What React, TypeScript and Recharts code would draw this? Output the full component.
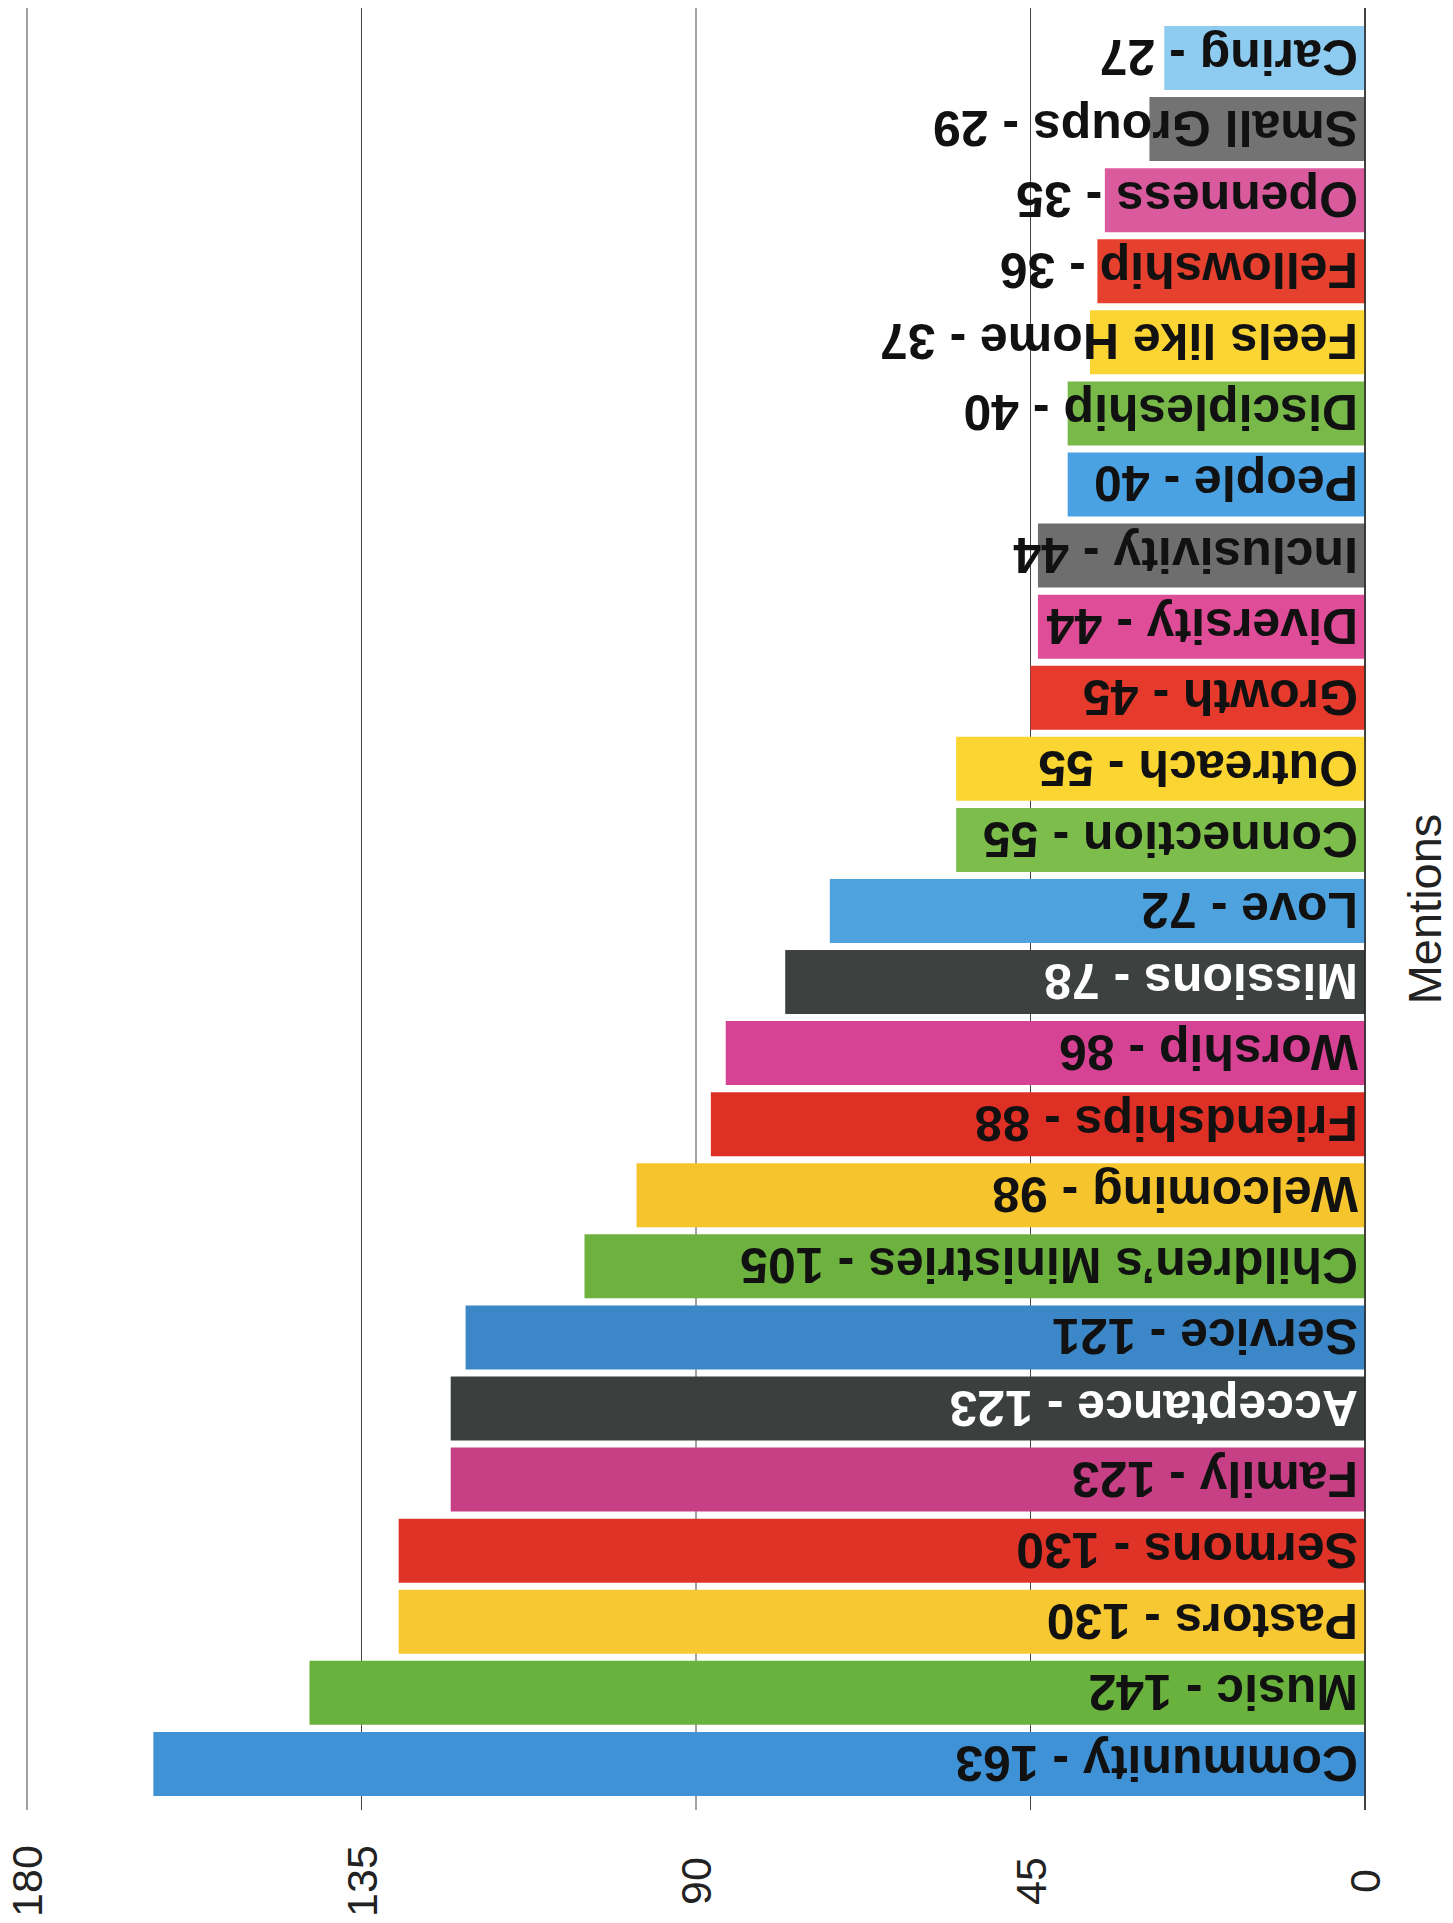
import React from "react";
import {
  BarChart,
  Bar,
  XAxis,
  YAxis,
  CartesianGrid,
  Cell,
  LabelList,
} from "recharts";

// bottom bar first
const categories = [
  "Community",
  "Music",
  "Pastors",
  "Sermons",
  "Family",
  "Acceptance",
  "Service",
  "Children\u2019s Ministries",
  "Welcoming",
  "Friendships",
  "Worship",
  "Missions",
  "Love",
  "Connection",
  "Outreach",
  "Growth",
  "Diversity",
  "Inclusivity",
  "People",
  "Discipleship",
  "Feels like Home",
  "Fellowship",
  "Openness",
  "Small Groups",
  "Caring",
];

const mentions = [
  163, 142, 130, 130, 123, 123, 121, 105, 98, 88, 86, 78, 72, 55, 55, 45, 44,
  44, 40, 40, 37, 36, 35, 29, 27,
];

const barColors = [
  "#3e92d5", "#6ab23e", "#f8c833", "#e03327", "#c73f85", "#3b3f3e",
  "#3c87c8", "#6db23f", "#f6c52d", "#df3026", "#d64294", "#3d4140",
  "#4ea3de", "#7cbd4b", "#fbd531", "#e63a2c", "#df4d98", "#6e6e6e",
  "#4aa2e2", "#78b94a", "#fbd533", "#e6402f", "#d95b9e", "#737373",
  "#8dcbf1",
];

const mentionTicks = [0, 45, 90, 135, 180];

const rows = categories.map((name, i) => ({
  name,
  mentions: mentions[i],
  label: `${name} - ${mentions[i]}`,
}));

// only the near-black bars carry white text
const isDark = (hex: string) => {
  const r = parseInt(hex.slice(1, 3), 16);
  const g = parseInt(hex.slice(3, 5), 16);
  const b = parseInt(hex.slice(5, 7), 16);
  return 0.299 * r + 0.587 * g + 0.114 * b < 80;
};

const FONT = "'Liberation Sans', Arial, Helvetica, sans-serif";

const BarLabel = (props: any) => {
  const { x, y, width, height, value, index } = props;
  const right = Math.max(x, x + width);
  const cx = right - 7;
  const cy = y + height / 2;
  return (
    <text
      x={cx}
      y={cy}
      dy="0.36em"
      transform={`rotate(180 ${cx} ${cy})`}
      textAnchor="start"
      fontFamily={FONT}
      fontSize={50}
      fontWeight="bold"
      fill={isDark(barColors[index]) ? "#ffffff" : "#111111"}
    >
      {value}
    </text>
  );
};

const MentionTick = (props: any) => {
  const { x, y, payload } = props;
  const cy = y + 71;
  return (
    <text
      x={x}
      y={cy}
      transform={`rotate(-90 ${x} ${cy})`}
      textAnchor="middle"
      dominantBaseline="central"
      fontFamily={FONT}
      fontSize={43}
      fill="#222"
    >
      {payload.value}
    </text>
  );
};

const AxisTitle = (props: any) => {
  const { viewBox } = props;
  const cx = viewBox.x + viewBox.width + 58;
  const cy = viewBox.y + viewBox.height / 2;
  return (
    <text
      x={cx}
      y={cy}
      transform={`rotate(-90 ${cx} ${cy})`}
      textAnchor="middle"
      dominantBaseline="central"
      fontFamily={FONT}
      fontSize={47}
      fill="#222"
    >
      Mentions
    </text>
  );
};

export default function App() {
  return (
    <div
      style={{
        position: "absolute",
        left: 0,
        top: 0,
        width: 1453,
        height: 1923,
        background: "#fff",
      }}
    >
      <BarChart
        width={1453}
        height={1923}
        data={rows}
        layout="vertical"
        margin={{ top: 8, right: 87, bottom: 0, left: 27 }}
      >
        <CartesianGrid horizontal={false} stroke="#444" strokeWidth={1} />
        <XAxis
          type="number"
          dataKey="mentions"
          domain={[0, 180]}
          ticks={mentionTicks}
          reversed
          height={113}
          axisLine={false}
          tickLine={false}
          tickSize={0}
          tickMargin={0}
          tick={<MentionTick />}
          interval={0}
        />
        <YAxis
          type="category"
          dataKey="name"
          orientation="right"
          reversed
          width={1}
          tick={false}
          tickLine={false}
          axisLine={{ stroke: "#222", strokeWidth: 1.5 }}
          padding={{ top: 14, bottom: 11 }}
          label={<AxisTitle />}
        />
        <Bar dataKey="mentions" barSize={64} isAnimationActive={false}>
          {rows.map((r, i) => (
            <Cell key={r.name} fill={barColors[i]} />
          ))}
          <LabelList dataKey="label" content={<BarLabel />} />
        </Bar>
      </BarChart>
    </div>
  );
}
